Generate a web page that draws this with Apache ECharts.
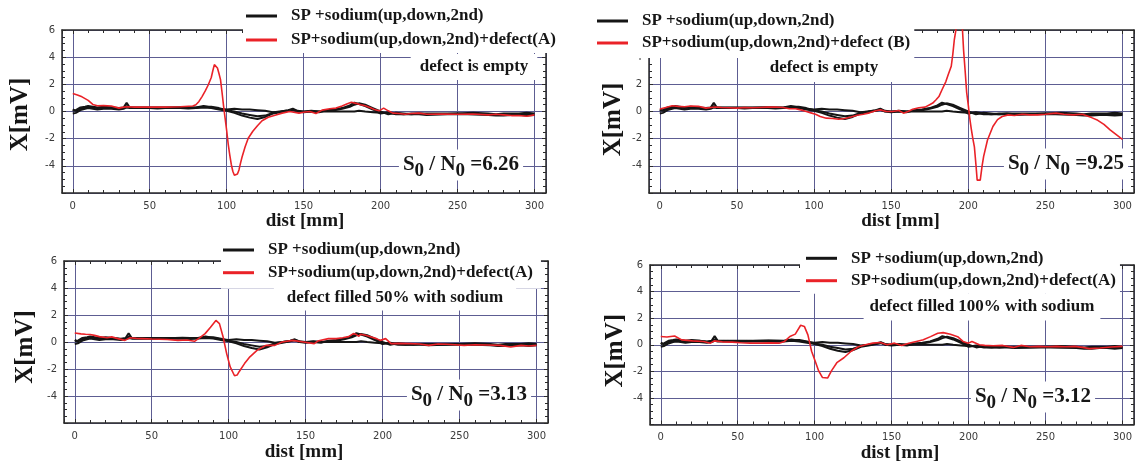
<!DOCTYPE html>
<html><head><meta charset="utf-8">
<script src="https://cdn.jsdelivr.net/npm/echarts@6/dist/echarts.min.js"></script>
<style>html,body{margin:0;padding:0;background:#fff}#c{width:1135px;height:464px}</style>
</head><body><div id="c"></div>
<script>
// ---------- data ----------
const xTickLabels = [0, 50, 100, 150, 200, 250, 300];
const yTickLabels = [6, 4, 2, 0, -2, -4];

const blackName = 'SP +sodium(up,down,2nd)';
const redNames = ['SP+sodium(up,down,2nd)+defect(A)', 'SP+sodium(up,down,2nd)+defect (B)',
                  'SP+sodium(up,down,2nd)+defect(A)', 'SP+sodium(up,down,2nd)+defect(A)'];
const noteTexts = ['defect is empty', 'defect is empty', 'defect filled 50% with sodium', 'defect filled 100% with sodium'];
const snValues = ['6.26', '9.25', '3.13', '3.12'];

// reference scans (SP + sodium), three traces: up, down, 2nd
const blackX = [0,2,5,8,10,13,16,20,25,30,33,35,37,40,45,50,55,60,65,70,75,80,85,90,95,100,105,110,115,120,125,130,135,140,143,146,150,155,160,165,170,175,180,183,186,190,195,200,205,210,215,220,225,230,240,250,260,270,275,280,285,290,295,300];
const blackUp = [0.15,0.05,0.2,0.3,0.35,0.3,0.25,0.3,0.3,0.25, 0.3,0.65,0.3,0.3,0.28, 0.28,0.28,0.3,0.3,0.32, 0.3,0.3,0.4,0.3,0.2, 0.15,0.2,0.15,0.15,0.1, 0.05,-0.05,0,0.1,0.2, 0.05,0,0.05,0,0, 0,0,0,0,0.05, 0,-0.05,-0.1,-0.1,-0.2, -0.2,-0.15,-0.15,-0.15,-0.15, -0.15,-0.1,-0.15,-0.2,-0.15, -0.15,-0.15,-0.1,-0.15];
const blackDown = [-0.15,-0.1,0.1,0.2,0.25,0.2,0.15,0.2,0.2,0.15, 0.2,0.3,0.25,0.25,0.25, 0.25,0.22,0.25,0.25,0.25, 0.22,0.25,0.3,0.25,0.15, 0.05,-0.1,-0.3,-0.45,-0.55, -0.4,-0.15,-0.05,0.05,0.12, 0,-0.05,0,-0.05,0.1, 0.15,0.25,0.45,0.65,0.55, 0.4,0.15,-0.15,-0.05,-0.15, -0.2,-0.2,-0.2,-0.25,-0.2, -0.2,-0.2,-0.25,-0.3,-0.3, -0.25,-0.25,-0.3,-0.25];
const black2nd = [0.05,0.1,0.3,0.35,0.4,0.35,0.3,0.35,0.3,0.2, 0.25,0.4,0.3,0.28,0.3, 0.3,0.3,0.28,0.3,0.3, 0.3,0.28,0.35,0.35,0.25, 0.1,0,-0.15,-0.25,-0.35, -0.3,-0.1,0,0.08,0.15, 0.02,-0.02,0.02,0,0.05, 0.1,0.2,0.35,0.5,0.6, 0.5,0.25,0,-0.2,-0.1, -0.15,-0.2,-0.15,-0.2,-0.2, -0.15,-0.2,-0.2,-0.25,-0.2, -0.25,-0.2,-0.2,-0.2];

// panel 1: defect (A), empty
const redAX = [0,3,6,10,13,16,20,25,30,33,36,40,50,60,70,78,80,82,84,86,88,90,91,92,93,94,95,96,97,98,99,100,101,102,103,104,105,106,107,108,109,110,112,114,117,120,123,127,132,136,141,147,150,154,158,162,167,171,175,178,181,184,187,190,193,196,199,202,205,208,212,216,220,225,230,240,250,260,270,275,280,285,290,295,300];
const redAY = [1.32,1.22,1.08,0.82,0.52,0.42,0.43,0.4,0.25,0.32,0.35,0.32,0.32,0.32,0.35,0.4,0.5,0.74,1.1,1.5,1.95,2.5,3.0,3.45,3.4,3.2,2.8,2.35,1.4,0.4,-0.5,-1.4,-2.4,-3.2,-3.9,-4.4,-4.7,-4.75,-4.6,-4.3,-3.8,-3.35,-2.6,-1.97,-1.45,-1.05,-0.68,-0.42,-0.25,-0.12,0,-0.12,-0.05,0,-0.15,0.1,0.2,0.25,0.4,0.55,0.68,0.6,0.5,0.42,0.3,0.15,0.05,0.25,0.05,-0.12,-0.15,-0.2,-0.15,-0.12,-0.2,-0.18,-0.2,-0.18,-0.25,-0.2,-0.25,-0.3,-0.3,-0.35,-0.25];
// panel 2: defect (B), empty
const redBX = [0,4,8,12,16,20,25,30,33,36,40,45,50,55,60,65,70,75,80,84,88,92,95,98,101,104,108,112,116,120,124,128,132,136,140,143,147,151,155,158,161,164,168,172,175,177,179,181,183,185.5,187,189,190,191,192,193,194,195,196,197,198,199,200,201,202,203,204,205,205.8,207.8,209,210,212.5,216,219,222,226,230,235,240,245,250,257,262,268,274,280,284,288,292,296,300];
const redBY = [0.18,0.3,0.42,0.38,0.35,0.4,0.38,0.25,0.3,0.33,0.3,0.28,0.25,0.3,0.28,0.3,0.32,0.33,0.3,0.2,0.2,0.1,0,-0.1,-0.2,-0.37,-0.49,-0.52,-0.57,-0.52,-0.4,-0.27,-0.2,-0.1,0.05,0.12,0,0,0.07,-0.12,0,0.17,0.28,0.32,0.5,0.62,0.85,1.1,1.6,2.2,2.7,3.33,4.2,5.3,6.0,7.2,7.9,7.8,6.6,4.5,3.0,1.4,0.5,-0.5,-1.3,-2.0,-2.6,-3.9,-5.05,-5.05,-4.0,-3.3,-2.1,-1.1,-0.6,-0.37,-0.25,-0.3,-0.2,-0.25,-0.25,-0.2,-0.12,-0.2,-0.25,-0.2,-0.45,-0.65,-0.95,-1.35,-1.7,-2.05];
// panel 3: defect (A) filled 50%
const redCX = [0,4,7,10,12.8,16,21,24,28,32.5,36,40,44,50,55,60,67,73,77.8,81.3,84.7,88.2,91.7,94,96.4,98.7,101,103.8,105.5,106.8,110.3,113.8,118.4,121,124.2,130,134.7,141.6,148.6,155.6,157.9,164.8,170,174.1,178,181,183,184.6,185.7,189,192.7,196,198.5,202,205.5,210,218,224,230,236,241.5,247,253,260,268,276.3,283.3,290,295,300];
const redCY = [0.67,0.6,0.57,0.55,0.49,0.4,0.32,0.38,0.25,0.12,0.32,0.27,0.25,0.22,0.2,0.18,0.12,0.15,0.05,0.32,0.62,1.1,1.6,1.36,0.37,-0.86,-1.85,-2.5,-2.45,-2.2,-1.6,-1.1,-0.62,-0.45,-0.25,-0.25,0,0.12,0,-0.12,0.07,0.25,0.25,0.32,0.4,0.62,0.55,0.42,0.57,0.5,0.37,0.25,0.12,0.25,-0.12,-0.1,-0.12,-0.15,-0.25,-0.15,-0.17,-0.2,-0.25,-0.2,-0.22,-0.25,-0.37,-0.25,-0.3,-0.25];
// panel 4: defect (A) filled 100%
const redDX = [0,4,9,13.6,20.6,27.7,32.3,34.7,40,46.4,52,58.1,65,72,76.9,80.4,83.9,87.4,90.9,93.3,95.6,98,100.3,102.6,105,108.5,110.9,114.4,119,123.7,128.4,133,137.8,142.5,147.2,151.9,156.5,161.2,166,170.6,175.3,180,183.5,188.2,192.9,196.4,199.9,202.2,207,210.5,216,222.2,229.2,234,240,245.6,251,257.3,263,269,274,278.4,285.5,292.5,300];
const redDY = [0.62,0.58,0.66,0.37,0.29,0.25,0.12,0.29,0.22,0.2,0.15,0.12,0.12,0.14,0.12,0.25,0.62,0.8,1.47,1.38,0.74,-0.49,-1.23,-1.97,-2.46,-2.5,-1.97,-1.35,-0.98,-0.49,-0.15,0,0.12,0.17,0,0.12,-0.05,0.12,0.25,0.37,0.61,0.86,0.91,0.79,0.61,0.25,0.12,0.25,0,-0.05,-0.08,-0.05,-0.2,-0.05,-0.15,-0.12,-0.15,-0.12,-0.15,-0.12,-0.2,-0.29,-0.25,-0.17,-0.12];

const redSets = [[redAX, redAY], [redBX, redBY], [redCX, redCY], [redDX, redDY]];
const blackSets = [blackUp, blackDown, black2nd];

// ---------- layout / style ----------
const SERIF = 'Liberation Serif';
const GRIDC = '#5d5d92';
const AXC = '#2b2b2b';
const TXT = '#161616';
const X_MIN = -7, X_MAX = 307.5;

const layout = [
  {grid:{left:62,top:30,width:484,height:163}, lg:{left:243,top:0,padding:[6,5,3,3],gap:4},
   note:{x:474,y:67,pad:[5,9,4,9]}, sn:{x:461,y:165}, yGap:29, yShift:3, xGap:19, xShift:1},
  {grid:{left:649,top:30,width:485,height:163}, lg:{left:570,top:0,padding:[11,4,5,27],gap:2},
   note:{x:824,y:68,pad:[6,30,5,30]}, sn:{x:1066,y:164}, yGap:23, yShift:8, xGap:17, xShift:9},
  {grid:{left:64,top:261,width:484,height:162}, lg:{left:221,top:236,padding:[4,8,6,2],gap:2.7},
   note:{x:395,y:298,pad:[4,13,4,13]}, sn:{x:469,y:395}, yGap:26, yShift:5, xGap:20, xShift:-2},
  {grid:{left:650,top:265,width:484,height:163}, lg:{left:800,top:244,padding:[4.3,4,3,6],gap:2.4},
   note:{x:982,y:307,pad:[5,6,5,6]}, sn:{x:1033,y:397}, yGap:22, yShift:6, xGap:19.5, xShift:8}
];

function pairs(xs, ys) { return xs.map((x, k) => [x, ys[k]]); }

function makeX(i, L, main) {
  return {
    type:'value', gridIndex:i, position: main ? 'bottom' : 'top',
    min:X_MIN, max:X_MAX, splitNumber:6,
    axisLine:{show:true,onZero:false,lineStyle:{color:AXC,width:1.5}},
    axisTick:{show:true,inside:true,length:4,lineStyle:{color:AXC,width:1}},
    minorTick:{show:true,splitNumber:5,length:3,lineStyle:{color:AXC,width:1}},
    splitLine:{show:main,lineStyle:{color:GRIDC,width:1}},
    axisLabel:{show:main,margin:8,color:'#3a3a3a',fontFamily:'DejaVu Sans',fontSize:10,
      showMinLabel:false,showMaxLabel:false,
      formatter:v => xTickLabels.indexOf(Math.round(v*1000)/1000) >= 0 ? String(Math.round(v)) : ''},
    name: main ? 'dist [mm]' : '', nameLocation:'middle', nameGap:L.xGap,
    nameTextStyle:{fontFamily:SERIF,fontWeight:'bold',fontSize:19,color:TXT,
      padding: L.xShift >= 0 ? [0,0,0,2*L.xShift] : [0,-2*L.xShift,0,0]}
  };
}
function makeY(i, L, main) {
  return {
    type:'value', gridIndex:i, position: main ? 'left' : 'right',
    min:-6, max:6, interval:2,
    axisLine:{show:true,onZero:false,lineStyle:{color:AXC,width:1.5}},
    axisTick:{show:true,inside:true,length:4,lineStyle:{color:AXC,width:1}},
    minorTick:{show:true,splitNumber:4,length:3,lineStyle:{color:AXC,width:1}},
    splitLine:{show:main,lineStyle:{color:GRIDC,width:1}},
    axisLabel:{show:main,margin:7,color:'#3a3a3a',fontFamily:'DejaVu Sans',fontSize:10,
      formatter:v => yTickLabels.indexOf(v) >= 0 ? String(v) : ''},
    name: main ? 'X[mV]' : '', nameLocation:'middle', nameGap:L.yGap,
    nameTextStyle:{fontFamily:SERIF,fontWeight:'bold',fontSize:25,color:TXT,padding:[0,2*L.yShift,0,0]}
  };
}

const grids = [], xAxes = [], yAxes = [], series = [], legends = [], graphics = [];
layout.forEach((L, i) => {
  grids.push(Object.assign({containLabel:false}, L.grid));
  xAxes.push(makeX(i, L, true), makeX(i, L, false));
  yAxes.push(makeY(i, L, true), makeY(i, L, false));
  blackSets.forEach(ys => series.push({
    type:'line', name:blackName, xAxisIndex:2*i, yAxisIndex:2*i,
    data:pairs(blackX, ys), symbol:'none', showSymbol:false, clip:true, silent:true,
    lineStyle:{color:'#151515',width:2}, itemStyle:{color:'#151515'}, z:3
  }));
  series.push({
    type:'line', name:redNames[i], xAxisIndex:2*i, yAxisIndex:2*i,
    data:pairs(redSets[i][0], redSets[i][1]), symbol:'none', showSymbol:false, clip:true, silent:true,
    lineStyle:{color:'#ea2228',width:1.6}, itemStyle:{color:'#ea2228'}, z:4
  });
  legends.push({
    orient:'vertical', align:'left', left:L.lg.left, top:L.lg.top, padding:L.lg.padding,
    itemGap:L.lg.gap, itemWidth:31, itemHeight:3, icon:'rect',
    backgroundColor:'#fff', z:10, selectedMode:false,
    data:[blackName, redNames[i]],
    textStyle:{fontFamily:SERIF,fontWeight:'bold',fontSize:17,color:TXT,lineHeight:20,padding:[0,0,0,9]}
  });
  graphics.push({
    type:'text', x:L.note.x, y:L.note.y, z:100,
    style:{text:noteTexts[i], font:'bold 17px "Liberation Serif"', fill:TXT,
      align:'center', verticalAlign:'middle', textAlign:'center', textVerticalAlign:'middle',
      backgroundColor:'#fff', padding:L.note.pad}
  });
  graphics.push({
    type:'text', x:L.sn.x, y:L.sn.y, z:100,
    style:{text:'{m|S}{s|0}{m| / N}{s|0}{m| =' + snValues[i] + '}',
      rich:{m:{font:'bold 21px "Liberation Serif"', fill:TXT},
            s:{font:'bold 19px "Liberation Serif"', fill:TXT, padding:[12,0,0,0]}},
      align:'center', verticalAlign:'middle', textAlign:'center', textVerticalAlign:'middle',
      backgroundColor:'#fff', padding:[0,4,0,4]}
  });
});

const chart = echarts.init(document.getElementById('c'), null, {renderer:'canvas'});
chart.setOption({
  animation:false,
  backgroundColor:'#fff',
  grid:grids, xAxis:xAxes, yAxis:yAxes, series:series, legend:legends,
  graphic:{elements:graphics}
});
</script>
</body></html>
